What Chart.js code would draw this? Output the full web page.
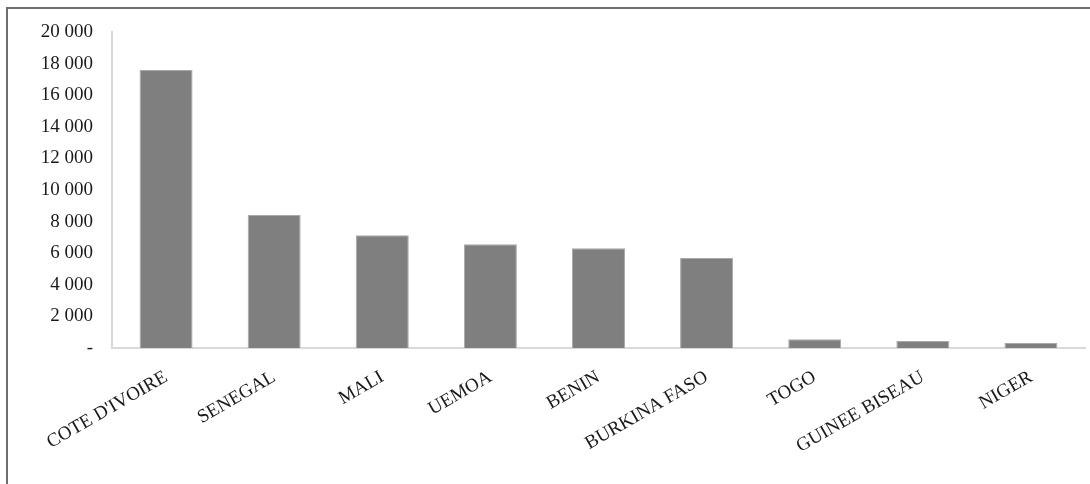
<!DOCTYPE html>
<html>
<head>
<meta charset="utf-8">
<script src="https://cdn.jsdelivr.net/npm/chart.js@4"></script>
<style>
  html, body { margin: 0; padding: 0; background: #fff; overflow: hidden; }
  #wrap { position: relative; width: 1090px; height: 484px; }
  #frame { position: absolute; left: 6px; top: 7px; width: 2000px; height: 2000px;
           border-left: 2px solid #6e6e6e; border-top: 2px solid #6e6e6e; pointer-events: none; }
</style>
</head>
<body>
<div id="wrap">
  <canvas id="chart" width="1090" height="484"></canvas>
  <div id="frame"></div>
</div>
<script>
const categories = ["COTE D'IVOIRE", "SENEGAL", "MALI", "UEMOA", "BENIN", "BURKINA FASO", "TOGO", "GUINEE BISEAU", "NIGER"];
const values = [17600, 8420, 7140, 6560, 6310, 5700, 560, 440, 320];
const yTicks = [0, 2000, 4000, 6000, 8000, 10000, 12000, 14000, 16000, 18000, 20000];

// thousands with a space, zero shown as a dash
function fmt(v) {
  if (v === 0) return "-";
  return String(v).replace(/\B(?=(\d{3})+(?!\d))/g, " ");
}

const serif = "'Liberation Serif', 'Times New Roman', serif";

new Chart(document.getElementById("chart"), {
  type: "bar",
  data: {
    labels: categories,
    datasets: [{
      data: values,
      backgroundColor: "#7f7f7f",
      borderColor: "#a9a9a9",
      borderWidth: 1,
      categoryPercentage: 1,
      barPercentage: 0.49
    }]
  },
  options: {
    responsive: false,
    animation: false,
    layout: { padding: { left: 12, top: 32, right: 5, bottom: 0 } },
    plugins: { legend: { display: false }, tooltip: { enabled: false } },
    scales: {
      x: {
        grid: { display: false, drawTicks: false },
        border: { color: "#d9d9d9", width: 2 },
        ticks: {
          color: "#1a1a1a",
          font: { family: serif, size: 19 },
          maxRotation: 30,
          minRotation: 30,
          padding: 18,
          autoSkip: false
        },
        afterFit: s => { s.height = 136; }
      },
      y: {
        min: 0,
        max: 20000,
        afterBuildTicks: s => { s.ticks = yTicks.map(v => ({ value: v })); },
        grid: { display: false, drawTicks: false },
        border: { color: "#d9d9d9", width: 2 },
        ticks: {
          color: "#1a1a1a",
          font: { family: serif, size: 19 },
          padding: 19,
          callback: v => fmt(v)
        },
        afterFit: s => { s.width = 100; }
      }
    }
  }
});
</script>
</body>
</html>
